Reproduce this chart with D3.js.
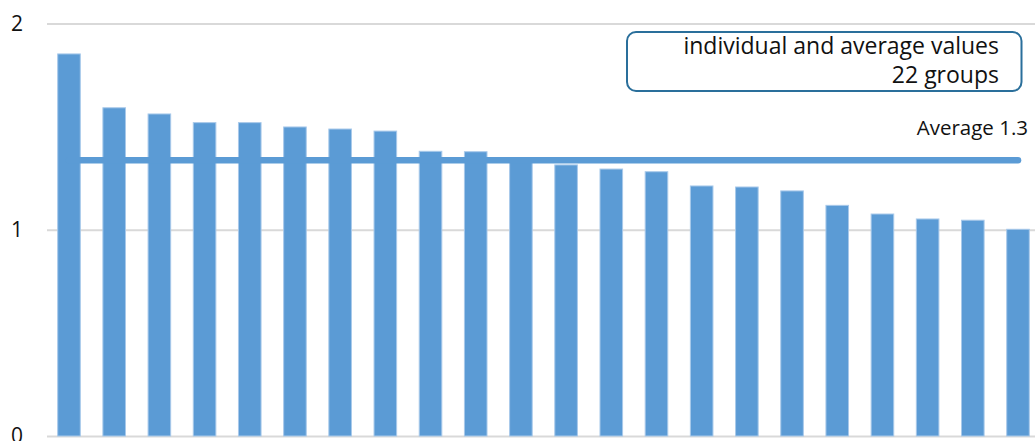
<!DOCTYPE html>
<html>
<head>
<meta charset="utf-8">
<script src="https://cdn.jsdelivr.net/npm/d3@7"></script>
<style>
  html, body { margin: 0; padding: 0; background: #fff; }
  svg { display: block; }
  text { font-family: "Open Sans", Lato, sans-serif; fill: #111; }
</style>
</head>
<body>
<svg id="chart" width="1035" height="441"></svg>
<script>
// Group values, sorted from highest to lowest
const groups = d3.range(1, 23).map(i => "G" + i);
const values = [1.852, 1.591, 1.561, 1.519, 1.519, 1.498, 1.488, 1.478, 1.380, 1.378, 1.345,
                1.314, 1.294, 1.281, 1.212, 1.207, 1.188, 1.118, 1.076, 1.052, 1.046, 1.002];
const yTicks = [0, 1, 2];
const titleLines = ["individual and average values", groups.length + " groups"];

const W = 1035, H = 441;
const svg = d3.select("#chart");

const x = d3.scaleBand().domain(groups).range([46.4, 1040.6]).paddingInner(0.5).paddingOuter(0.25);
const y = d3.scaleLinear().domain([0, 2]).range([436, 23.4]);

const average = d3.mean(values);

// Value axis with gridlines
const yAxis = svg.append("g")
  .attr("transform", "translate(47,0)")
  .call(d3.axisLeft(y).tickValues(yTicks).tickSize(-(W - 47)).tickPadding(24).tickFormat(d3.format("d")));
yAxis.select(".domain").remove();
yAxis.selectAll(".tick line").attr("stroke", "#d9d9d9").attr("stroke-width", 2);
yAxis.selectAll(".tick text")
  .attr("font-size", 21)
  .attr("fill", "#111")
  .style("font-family", "'Open Sans', Lato, sans-serif");

// Bars
svg.append("g").selectAll("rect")
  .data(values)
  .join("rect")
  .attr("x", (d, i) => x(groups[i]))
  .attr("width", x.bandwidth())
  .attr("y", d => y(d))
  .attr("height", d => y(0) - y(d))
  .attr("fill", "#5b9bd5")
  .attr("stroke", "#a8c9ea")
  .attr("stroke-width", 1);

// Average line across all groups
const line = d3.line()
  .x(d => x(d) + x.bandwidth() / 2)
  .y(() => y(average));
svg.append("path")
  .datum(groups)
  .attr("d", line)
  .attr("fill", "none")
  .attr("stroke", "#5b9bd5")
  .attr("stroke-width", 6.5)
  .attr("stroke-linecap", "round");

svg.append("text")
  .attr("x", 1028)
  .attr("y", 135)
  .attr("text-anchor", "end")
  .attr("font-size", 20.5)
  .text("Average " + average.toFixed(1));

// Title box
svg.append("rect")
  .attr("x", 627)
  .attr("y", 32)
  .attr("width", 394.5)
  .attr("height", 59)
  .attr("rx", 9)
  .attr("fill", "none")
  .attr("stroke", "#2a6f9b")
  .attr("stroke-width", 2);

svg.append("g").selectAll("text")
  .data(titleLines)
  .join("text")
  .attr("x", 999)
  .attr("y", (d, i) => 54 + i * 29)
  .attr("text-anchor", "end")
  .attr("font-size", 23)
  .text(d => d);
</script>
</body>
</html>
